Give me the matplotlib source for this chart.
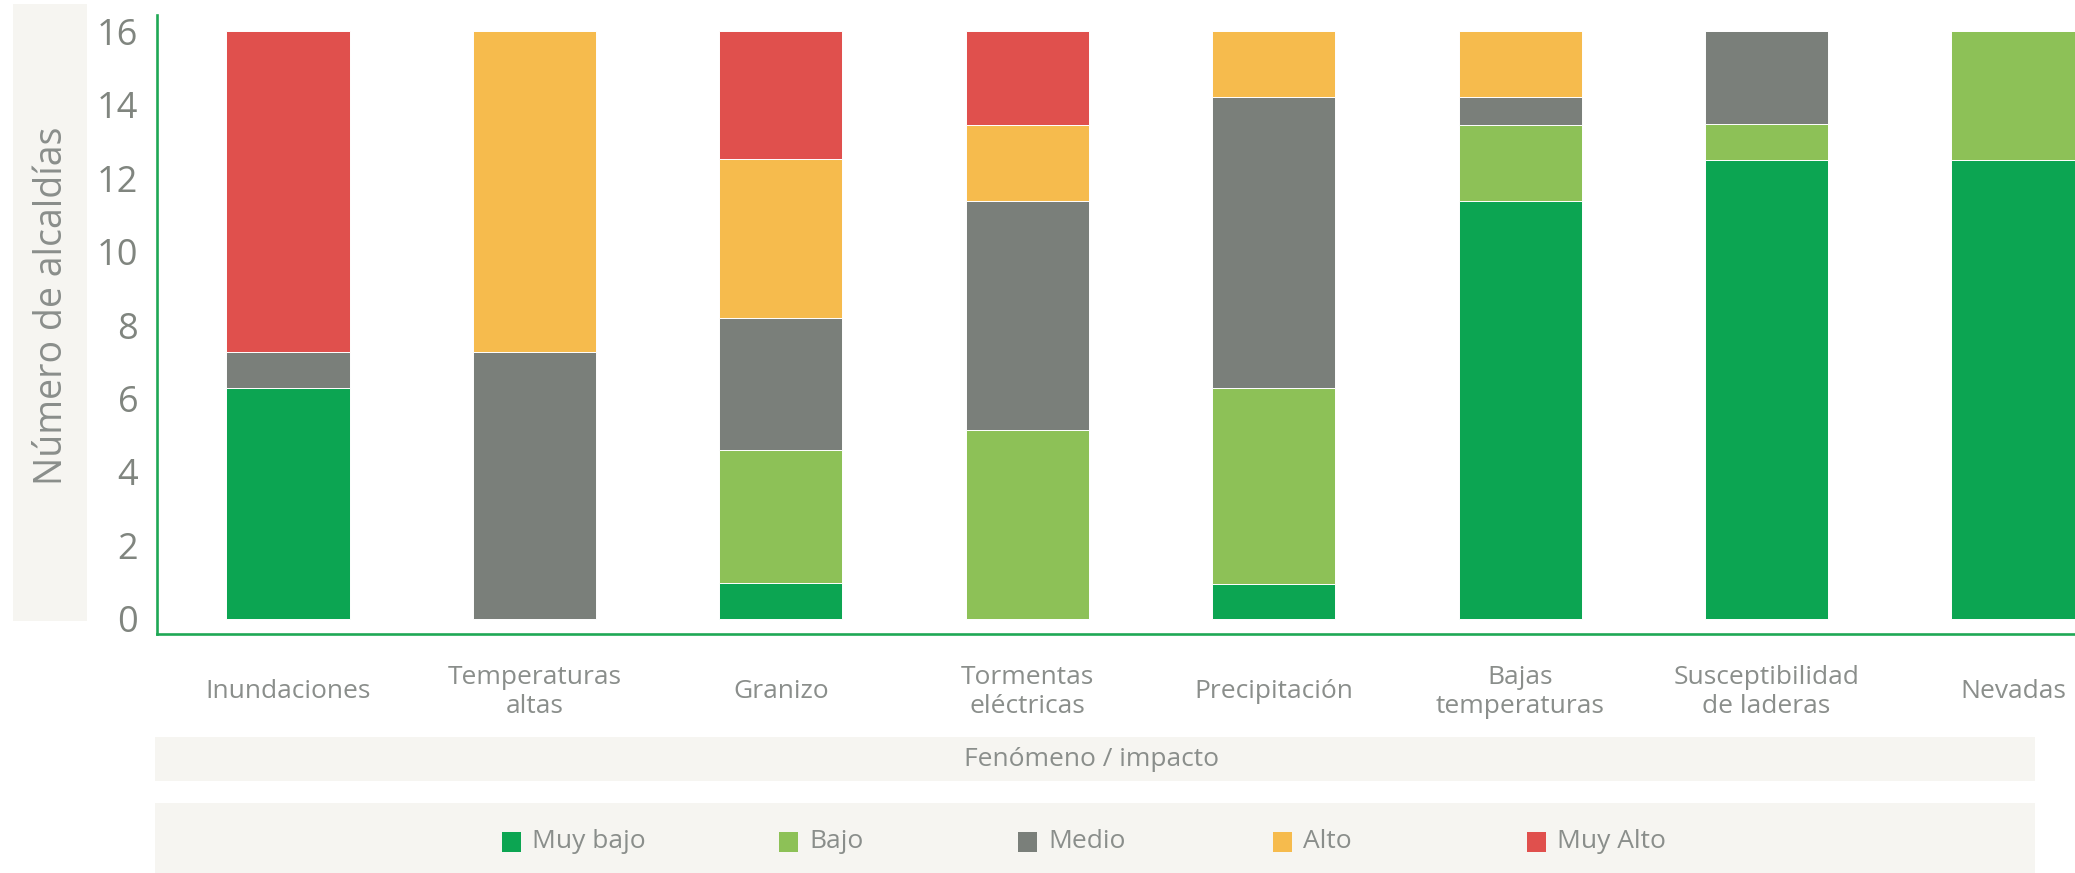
import matplotlib
matplotlib.use("Agg")
import matplotlib.pyplot as plt
from matplotlib.patches import Rectangle
import numpy as np

# data (número de alcaldías por nivel)
CATEGORIES = ["Inundaciones", "Temperaturas\naltas", "Granizo", "Tormentas\neléctricas",
              "Precipitación", "Bajas\ntemperaturas", "Susceptibilidad\nde laderas", "Nevadas"]
LEVELS = ["Muy bajo", "Bajo", "Medio", "Alto", "Muy Alto"]
MUY_BAJO = [6.28, 0.0, 0.97, 0.0, 0.94, 11.39, 12.5, 12.5]
BAJO     = [0.0, 0.0, 3.64, 5.13, 5.34, 2.05, 0.97, 3.5]
MEDIO    = [1.0, 7.28, 3.58, 6.26, 7.94, 0.78, 2.53, 0.0]
ALTO     = [0.0, 8.72, 4.33, 2.05, 1.78, 1.78, 0.0, 0.0]
MUY_ALTO = [8.72, 0.0, 3.48, 2.56, 0.0, 0.0, 0.0, 0.0]
Y_TICKS = [0, 2, 4, 6, 8, 10, 12, 14, 16]

COLORS = ["#0ca552", "#8dc157", "#7a7f7a", "#f6bb4d", "#e0504d"]
GREEN_AXIS = "#1fa855"
TEXT_GREY = "#8a8e8b"
BAND = "#f6f5f1"
FONT = "Open Sans"

W, H = 2075, 873


def fx(x):
    return x / W


def fy(y):
    return 1 - y / H


plt.rcParams["font.family"] = [FONT, "DejaVu Sans"]

fig = plt.figure(figsize=(W / 100, H / 100), dpi=100)
fig.patch.set_facecolor("white")

# grey bands (y label, x title, legend)
fig.patches.append(Rectangle((fx(13), fy(621)), fx(87 - 13), (621 - 4) / H,
                             transform=fig.transFigure, facecolor=BAND, edgecolor="none", zorder=0))
fig.patches.append(Rectangle((fx(155), fy(781)), fx(2035 - 155), (781 - 737) / H,
                             transform=fig.transFigure, facecolor=BAND, edgecolor="none", zorder=0))
fig.patches.append(Rectangle((fx(155), fy(873)), fx(2035 - 155), (873 - 803) / H,
                             transform=fig.transFigure, facecolor=BAND, edgecolor="none", zorder=0))

ax = fig.add_axes([fx(157), fy(634), fx(W - 157), (634 - 15) / H])
ax.set_facecolor("none")

series = [MUY_BAJO, BAJO, MEDIO, ALTO, MUY_ALTO]
x = np.arange(len(CATEGORIES))
bottom = np.zeros(len(CATEGORIES))
for vals, color, name in zip(series, COLORS, LEVELS):
    vals = np.array(vals)
    ax.bar(x, vals, width=0.5, bottom=bottom, color=color, edgecolor="white",
           linewidth=0.7, label=name, zorder=2)
    bottom += vals

ax.set_xlim(-0.532, 7.252)
ax.set_ylim(-0.41, 16.44)

for side in ["top", "right"]:
    ax.spines[side].set_visible(False)
for side in ["left", "bottom"]:
    ax.spines[side].set_color(GREEN_AXIS)
    ax.spines[side].set_linewidth(1.9)

ax.set_yticks(Y_TICKS)
ax.set_yticklabels([str(t) for t in Y_TICKS], fontsize=26, color="#80857f")
ax.tick_params(axis="y", length=0, pad=13.5)

ax.set_xticks(x)
ax.set_xticklabels(CATEGORIES, fontsize=19, color=TEXT_GREY)
ax.tick_params(axis="x", length=0, pad=41.5)
for lbl in ax.get_xticklabels():
    lbl.set_va("center")
    lbl.set_multialignment("center")

# y label inside its band
fig.text(fx(52), fy(306), "Número de alcaldías", rotation=90, ha="center", va="center",
         fontsize=27, color=TEXT_GREY)

# x title inside its band
fig.text(fx(1092), fy(760), "Fenómeno / impacto", ha="center", va="center",
         fontsize=19, color=TEXT_GREY)

# legend row
legend_x = [502, 779, 1018, 1273, 1527]
for lx, name, color in zip(legend_x, LEVELS, COLORS):
    fig.patches.append(Rectangle((fx(lx), fy(852)), fx(19), 20 / H,
                                 transform=fig.transFigure, facecolor=color,
                                 edgecolor="none", zorder=1))
    fig.text(fx(lx + 30), fy(842), name, ha="left", va="center",
             fontsize=19, color=TEXT_GREY)

fig.savefig("out.png", dpi=100)
